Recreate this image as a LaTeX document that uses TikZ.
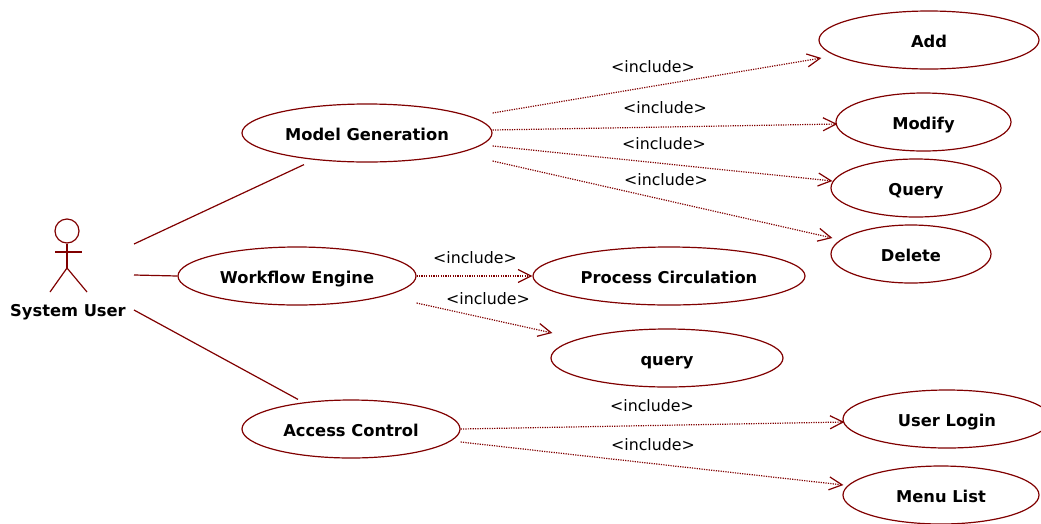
\documentclass[tikz,border=0pt]{standalone}
\usepackage{fontspec}
\setmainfont{DejaVu Sans}
\usepackage{tikz}
\usetikzlibrary{calc}
\usetikzlibrary{shapes}
\usetikzlibrary{arrows.meta}
\definecolor{umlred}{RGB}{128,0,0}
\tikzset{
  usecase/.style={shape=ellipse,draw=umlred,line width=1.2pt,inner sep=0pt,text height=14pt,text depth=0pt,font=\bfseries\fontsize{16.3}{18}\selectfont},
  assoc/.style={draw=umlred,line width=1.2pt},
  incl/.style={draw=umlred,line width=1.2pt,dash pattern=on 1.2pt off 1.2pt,-{Straight Barb[length=13pt,width=13pt]}},
  incllabel/.style={inner sep=0pt,text height=10pt,text depth=0pt,font=\fontsize{15.8}{18}\selectfont}
}
\newcommand{\usecase}[6]{\node[usecase,minimum width=#4pt,minimum height=#5pt] (#1) at ( #2 , #3 ) {#6};}
\newcommand{\incllabl}[3]{\node[incllabel] (#1) at ( #2 , #3 ) {<include>};}
\begin{document}
\begin{tikzpicture}[x=1pt,y=-1pt]
\useasboundingbox (0,0) rectangle (1041,523);
% actor
\node[draw=umlred,line width=1.2pt,shape=circle,minimum size=24pt,inner sep=0pt] (head) at (67,231) {};
\coordinate (hip) at (67,268);
\coordinate (armL) at (55,252);
\coordinate (armR) at (82,252);
\coordinate (footL) at (50,292);
\coordinate (footR) at (87,292);
\draw[assoc] (head) -- (hip);
\draw[assoc] (armL) -- (armR);
\draw[assoc] (footL) -- (hip) -- (footR);
\node[inner sep=0pt,text height=12pt,text depth=0pt,font=\bfseries\fontsize{16.3}{18}\selectfont] (user) at (68,310) {System User};
% use cases, first column
\usecase{model}{367}{133}{250}{58}{Model Generation}
\usecase{workflow}{297}{276}{238}{58}{Workflow Engine}
\usecase{access}{351}{429}{218}{58}{Access Control}
% use cases, included
\usecase{add}{929}{40}{220}{58}{Add}
\usecase{modify}{923.5}{122}{175}{58}{Modify}
\usecase{queryA}{916}{188}{170}{58}{Query}
\usecase{delete}{911}{254}{160}{58}{Delete}
\usecase{process}{669}{276}{272}{58}{Process Circulation}
\usecase{queryB}{667}{358}{232}{58}{query}
\usecase{login}{947}{419}{208}{58}{User Login}
\usecase{menu}{941}{495}{196}{58}{Menu List}
% associations
\draw[assoc] ($(user.east)+(8,-66)$) -- ($(model.south)+(-63,2)$);
\draw[assoc] ($(user.east)+(8,-35)$) -- (workflow.west);
\draw[assoc] ($(user.east)+(8,0)$) -- ($(access.north)+(-53,0)$);
% include arrows
\draw[incl] ($(model.east)+(0,-20)$) -- ($(add.west)+(3,18)$);
\draw[incl] ($(model.east)+(0,-3)$) -- ($(modify.west)+(2,2)$);
\draw[incl] ($(model.east)+(0,13)$) -- ($(queryA.west)+(2,-7)$);
\draw[incl] ($(model.east)+(0,28)$) -- ($(delete.west)+(2,-16)$);
\draw[incl] (workflow.east) -- (process.west);
\draw[incl] ($(workflow.east)+(0,27)$) -- ($(queryB.west)+(2,-25)$);
\draw[incl] (access.east) -- ($(login.west)+(2,3)$);
\draw[incl] ($(access.east)+(0,13)$) -- ($(menu.west)+(1,-10)$);
% include labels
\incllabl{inclA}{653}{67}
\incllabl{inclB}{665}{108}
\incllabl{inclC}{664}{144}
\incllabl{inclD}{666}{180}
\incllabl{inclE}{475}{258}
\incllabl{inclF}{488}{299}
\incllabl{inclG}{652}{406}
\incllabl{inclH}{653}{445}
\end{tikzpicture}
\end{document}
